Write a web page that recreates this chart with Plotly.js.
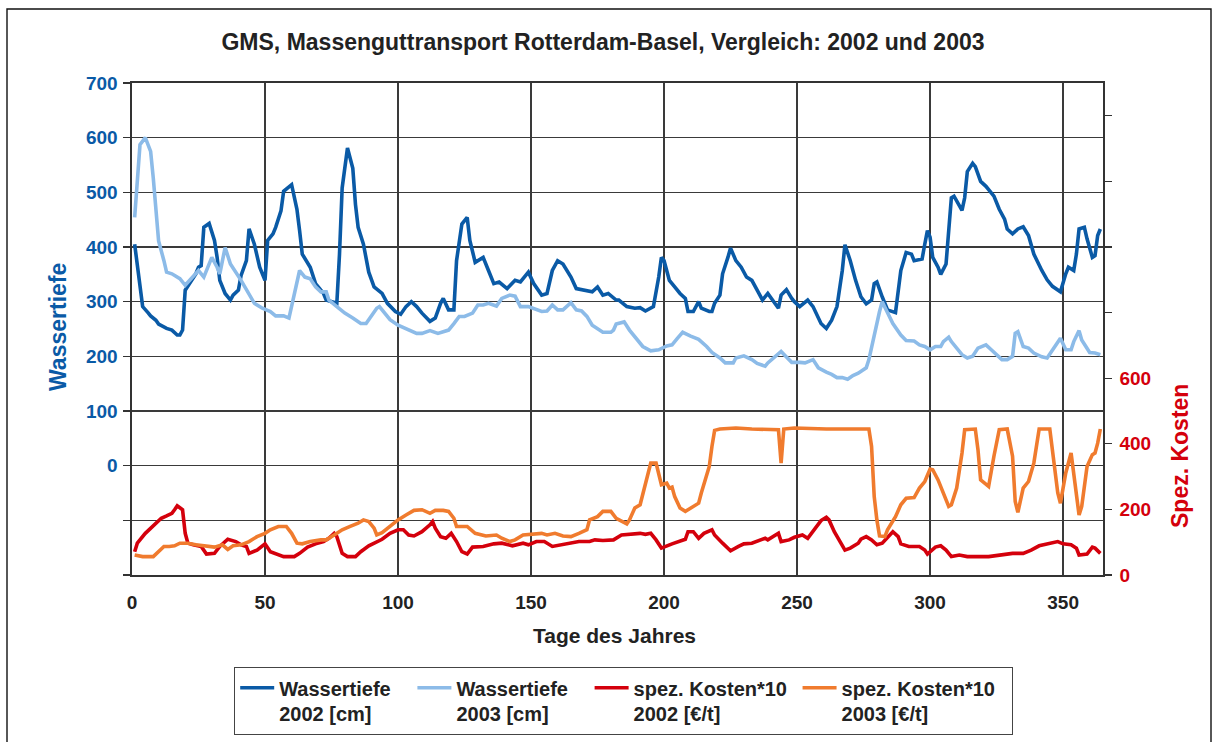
<!DOCTYPE html>
<html>
<head>
<meta charset="utf-8">
<script src="https://cdn.plot.ly/plotly-3.0.1.min.js"></script>
<style>
html,body{margin:0;padding:0;background:#fff;}
#chart{width:1217px;height:742px;}
</style>
</head>
<body>
<div id="chart"></div>
<script>
// ---- Data ----
const titleText = "GMS, Massenguttransport Rotterdam-Basel, Vergleich: 2002 und 2003";
const xTicks = [0, 50, 100, 150, 200, 250, 300, 350];

// Wassertiefe 2002 [cm]
const days2002W = [1,2,3,4,6,7,9,10,13,15,17,18,19,20,22,24,25,26,27,29,31,32,33,35,37,38,40,41,43,44,46,48,50,51,53,54,56,57,60,62,63,64,67,69,72,73,77,78,79,81,83,84,85,87,89,91,94,96,99,101,103,105,107,109,112,114,116,117,119,121,122,124,126,127,129,132,134,136,138,141,144,146,149,151,154,156,158,160,162,165,167,170,173,175,177,179,182,183,186,189,191,193,196,198,199,200,202,204,206,208,209,211,213,214,217,218,219,221,222,224,225,227,229,231,233,235,237,239,241,243,244,246,248,249,251,254,256,258,259,261,263,265,267,268,270,272,274,276,278,279,280,282,284,287,288,289,291,293,294,297,298,299,300,301,303,304,306,307,308,309,312,313,314,316,317,319,321,323,324,326,328,329,331,333,335,337,339,342,344,346,348,349,351,352,354,355,356,358,359,361,362,363,364];
const wasser2002 = [405,363,321,291,280,274,266,259,251,248,239,239,248,321,336,351,363,366,436,443,412,381,339,315,303,312,321,348,375,433,405,363,339,412,424,436,466,502,514,469,430,387,363,333,315,303,297,387,508,581,544,478,436,405,354,327,315,297,282,277,291,300,291,279,264,270,297,306,285,285,375,442,454,412,372,381,357,333,336,324,339,336,354,333,312,315,357,375,369,345,324,321,318,327,312,315,303,303,291,288,289,283,291,345,381,375,339,327,315,306,282,282,300,288,282,282,297,312,351,381,398,375,363,345,339,321,303,315,300,288,312,322,306,300,291,303,291,270,260,251,266,291,357,404,375,339,309,296,303,333,336,309,285,280,315,357,390,387,375,378,405,430,418,381,363,350,369,430,490,493,467,490,538,553,547,520,511,499,493,469,451,433,424,433,437,421,387,357,340,328,321,318,351,363,357,387,433,436,415,381,384,421,433];

// Wassertiefe 2003 [cm]
const days2003W = [1,2,3,5,7,8,9,10,12,13,15,18,20,22,25,27,30,32,33,35,37,41,44,46,49,52,54,57,59,60,62,63,65,67,69,71,73,74,77,80,83,86,88,90,92,93,95,97,100,104,107,109,112,115,119,121,123,125,128,130,132,134,137,139,142,144,146,149,151,154,156,158,160,162,165,167,169,171,173,175,177,180,181,182,185,187,189,192,195,198,201,203,205,207,210,213,216,218,221,223,226,227,230,233,235,238,239,242,244,246,248,251,253,256,258,261,263,265,267,269,271,273,276,277,279,281,282,284,286,289,291,294,296,298,300,302,304,305,307,308,310,312,314,316,318,321,323,325,327,329,331,332,333,335,337,339,342,344,347,349,351,353,354,356,357,360,362,364];
const wasser2003 = [454,532,587,600,575,526,472,411,375,354,351,342,330,340,357,345,381,363,351,399,369,339,315,297,288,282,274,274,270,291,339,357,345,342,327,318,318,303,291,279,270,260,260,273,288,291,279,267,257,248,242,242,247,242,248,260,273,273,279,294,294,297,292,306,312,310,291,291,288,282,283,294,285,285,298,285,283,273,257,250,244,244,248,259,263,248,236,218,210,212,219,221,233,244,237,231,218,207,197,188,188,197,201,194,187,182,188,200,209,199,189,189,188,194,179,171,167,161,161,158,165,169,179,194,242,282,300,279,260,239,229,228,221,218,212,218,218,227,235,227,215,203,197,200,215,221,212,203,194,194,200,242,245,218,215,206,199,197,218,233,212,212,227,247,230,207,206,203];

// spez. Kosten*10 2002 [€/t]
const days2002K = [1,2,5,7,9,11,13,15,16,17,18,19,20,21,23,26,28,31,33,36,39,41,43,44,47,50,52,54,57,61,63,66,69,72,74,76,77,79,81,84,86,89,91,94,97,100,102,104,106,109,112,113,114,116,118,120,122,124,126,128,132,136,139,143,147,149,152,155,158,161,164,168,172,174,177,179,181,184,188,191,193,195,197,199,203,206,208,209,211,213,215,218,219,222,225,228,230,233,236,238,239,243,244,247,249,252,254,256,259,261,262,264,266,268,270,273,274,276,278,280,282,284,286,288,289,292,296,298,299,302,304,306,308,311,314,322,326,331,335,338,341,344,348,350,353,355,356,359,361,362,364];
const kosten2002 = [71,97,127,143,158,173,180,188,199,211,205,199,127,97,92,87,64,66,87,109,102,92,87,66,76,95,71,66,56,56,66,85,95,102,112,127,117,66,56,56,71,89,97,109,127,138,138,122,119,132,153,163,143,117,112,127,102,71,64,85,87,95,97,89,97,92,102,102,87,92,97,102,102,107,105,107,107,122,125,127,124,127,107,82,95,102,109,132,132,112,127,138,122,97,74,87,95,97,105,112,107,127,102,107,115,122,112,132,166,176,168,132,102,76,82,97,109,117,107,92,97,115,132,117,95,87,87,76,64,85,89,76,56,61,56,56,61,66,66,76,89,95,102,95,92,82,61,64,85,82,66];

// spez. Kosten*10 2003 [€/t]
const days2003K = [1,4,8,10,12,14,16,18,21,24,28,31,34,36,38,41,44,47,50,52,55,58,60,62,64,67,71,73,76,79,82,85,87,89,91,92,94,97,100,103,106,109,112,114,117,119,121,122,126,129,133,137,139,142,144,147,151,154,156,159,162,165,168,171,172,175,177,180,182,184,186,187,189,191,192,194,195,197,199,201,202,203,204,206,208,209,211,213,214,216,217,218,219,221,227,233,242,243,244,245,249,261,273,277,278,279,280,281,283,284,287,289,291,294,296,298,300,301,303,304,306,307,308,310,312,313,317,318,319,322,324,326,329,331,332,333,335,337,339,340,341,345,346,348,349,351,353,354,356,357,359,361,362,363,364];
const kosten2003 = [61,56,56,71,87,87,89,97,97,92,89,85,92,78,89,92,102,117,127,138,148,148,127,97,95,102,107,107,122,138,148,158,168,163,143,122,129,148,168,183,197,199,188,197,197,194,173,148,148,127,119,122,112,102,107,122,125,127,122,127,119,117,127,138,168,178,194,194,173,163,156,168,204,214,245,306,341,341,275,280,265,268,239,204,194,199,209,219,250,301,331,392,441,445,448,445,445,443,341,445,448,445,445,445,392,239,168,119,117,138,178,214,234,236,265,285,323,321,290,270,229,209,214,265,372,443,445,382,290,270,362,443,445,362,224,191,265,285,341,392,445,445,382,250,219,311,372,311,183,209,331,367,372,402,445];

const legendLine1 = ["Wassertiefe", "Wassertiefe", "spez. Kosten*10", "spez. Kosten*10"];
const legendLine2 = ["2002 [cm]", "2003 [cm]", "2002 [€/t]", "2003 [€/t]"];
// ---- end of data ----

const FONT = "Liberation Sans, Arial, Helvetica, sans-serif";
const cDark = "#0a5aa6", cLight = "#8cbbe8", cRed = "#d4000c", cOrange = "#f07b2e";
const LW = 3.6;
const padCounts = [3, 3, 1, 2];
const legendNames = legendLine1.map((t, i) => t + "\u00a0".repeat(padCounts[i]) + "<br>" + legendLine2[i]);

// plot area geometry in px (for paper conversion)
const L = 132, R = 1103, T = 83, B = 575, W = 1217, H = 742;
const px = v => (v - L) / (R - L);
const py = v => (B - v) / (B - T);

const traces = [
  {x: days2002W, y: wasser2002, name: legendNames[0], type: "scatter", mode: "lines",
   line: {color: cDark, width: LW}, yaxis: "y"},
  {x: days2003W, y: wasser2003, name: legendNames[1], type: "scatter", mode: "lines",
   line: {color: cLight, width: LW}, yaxis: "y"},
  {x: days2002K, y: kosten2002, name: legendNames[2], type: "scatter", mode: "lines",
   line: {color: cRed, width: LW}, yaxis: "y2"},
  {x: days2003K, y: kosten2003, name: legendNames[3], type: "scatter", mode: "lines",
   line: {color: cOrange, width: LW}, yaxis: "y2"}
];

const leftVals = [-200,-100,0,100,200,300,400,500,600,700];
const leftText = leftVals.map(v => v < 0 ? "" : String(v));
const rightVals = [0,200,400,600,800,1000,1200,1400];
const rightText = rightVals.map(v => v > 600 ? "" : String(v));

const layout = {
  width: W, height: H,
  margin: {l: L, r: W - R, t: T, b: H - B, pad: 0, autoexpand: false},
  paper_bgcolor: "#fff", plot_bgcolor: "#fff",
  font: {family: FONT, color: "#222"},
  showlegend: true,
  title: {text: titleText, font: {family: FONT, size: 23, color: "#222", weight: "bold"},
          x: 603 / W, xanchor: "center", y: 1 - 42 / H, yanchor: "middle"},
  xaxis: {
    range: [0, 365], tickvals: xTicks, ticktext: xTicks.map(String),
    showgrid: true, gridcolor: "#3a3a3a", gridwidth: 1.2, zeroline: false,
    showline: true, linecolor: "#333", linewidth: 1.6, mirror: true,
    ticks: "", ticklabelstandoff: 10,
    tickfont: {family: FONT, size: 19, color: "#222", weight: "bold"}
  },
  yaxis: {
    range: [-200, 700], tickvals: leftVals, ticktext: leftText,
    showgrid: true, gridcolor: "#3a3a3a", gridwidth: 1.2, zeroline: false,
    showline: true, linecolor: "#333", linewidth: 1.6, mirror: true,
    ticks: "outside", ticklen: 7, tickcolor: "#333", tickwidth: 1.3,
    ticklabelstandoff: 2,
    tickfont: {family: FONT, size: 19, color: cDark, weight: "bold"}
  },
  yaxis2: {
    range: [0, 1500], tickvals: rightVals, ticktext: rightText,
    overlaying: "y", side: "right", showgrid: false, zeroline: false,
    showline: true, linecolor: "#333", linewidth: 1.6,
    ticks: "outside", ticklen: 7, tickcolor: "#333", tickwidth: 1.3,
    ticklabelstandoff: 4,
    tickfont: {family: FONT, size: 19, color: cRed, weight: "bold"}
  },
  legend: {
    orientation: "h", x: px(234), xanchor: "left", y: py(667), yanchor: "top",
    bordercolor: "#444", borderwidth: 1.2, bgcolor: "#fff",
    font: {family: FONT, size: 20, color: "#222", weight: "bold"},
    valign: "top", traceorder: "normal", itemwidth: 34
  },
  annotations: [
    {text: "Wassertiefe", xref: "paper", yref: "paper", x: px(58), y: py(327),
     showarrow: false, textangle: -90, xanchor: "center", yanchor: "middle",
     font: {family: FONT, size: 23, color: cDark, weight: "bold"}},
    {text: "Spez. Kosten", xref: "paper", yref: "paper", x: px(1180), y: py(456),
     showarrow: false, textangle: -90, xanchor: "center", yanchor: "middle",
     font: {family: FONT, size: 23, color: cRed, weight: "bold"}},
    {text: "Tage des Jahres", xref: "paper", yref: "paper", x: px(614), y: py(635),
     showarrow: false, xanchor: "center", yanchor: "middle",
     font: {family: FONT, size: 21, color: "#222", weight: "bold"}}
  ],
  shapes: [
    {type: "rect", xref: "paper", yref: "paper", x0: px(7), x1: px(1211), y0: py(770), y1: py(9),
     line: {color: "#111", width: 1.4}, fillcolor: "rgba(0,0,0,0)", layer: "below"}
  ]
};

Plotly.newPlot("chart", traces, layout, {displayModeBar: false, staticPlot: true});
</script>
</body>
</html>
